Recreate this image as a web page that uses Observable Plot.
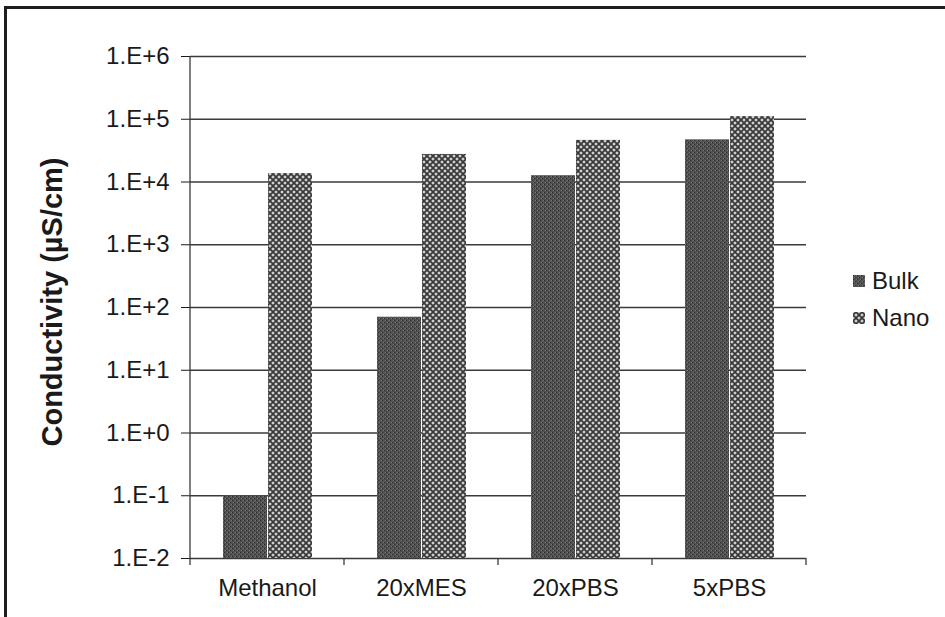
<!DOCTYPE html>
<html>
<head>
<meta charset="utf-8">
<script src="https://cdn.jsdelivr.net/npm/d3@7"></script>
<script src="https://cdn.jsdelivr.net/npm/@observablehq/plot@0.6"></script>
<style>
  body { margin: 0; background: #fff; font-family: "Liberation Sans", Arial, sans-serif; }
  #wrap { position: relative; width: 945px; height: 617px; overflow: hidden; background: #fff; }
  #frame { position: absolute; left: 4px; top: 6px; width: 1000px; height: 700px;
           border-left: 3px solid #1e1e1e; border-top: 3px solid #1e1e1e; }
  #chart { position: absolute; left: 0; top: 0; }
  #legend { position: absolute; left: 853px; top: 262px; font-size: 24px; color: #1a1a1a; line-height: 37px; }
  #legend .row { display: flex; align-items: center; }
  #legend svg { margin-right: 7px; }
</style>
</head>
<body>
<div id="wrap">
  <div id="frame"></div>
  <div id="chart"></div>
  <div id="legend"></div>
</div>
<script>
// ---- data ----
const categories = ["Methanol", "20xMES", "20xPBS", "5xPBS"];
const series = ["Bulk", "Nano"];
const bulkValues = [0.1, 70, 1.26e4, 4.7e4];
const nanoValues = [1.36e4, 2.75e4, 4.6e4, 1.1e5];
const yTicks = [1e-2, 1e-1, 1e0, 1e1, 1e2, 1e3, 1e4, 1e5, 1e6];
const yTickLabels = ["1.E-2", "1.E-1", "1.E+0", "1.E+1", "1.E+2", "1.E+3", "1.E+4", "1.E+5", "1.E+6"];
const yLabel = "Conductivity (µS/cm)";

const bulkRows = categories.map((c, i) => ({category: c, series: "Bulk", value: bulkValues[i]}));
const nanoRows = categories.map((c, i) => ({category: c, series: "Nano", value: nanoValues[i]}));
const yFloor = yTicks[0];
const fills = {Bulk: "url(#bulkPat)", Nano: "url(#nanoPat)"};

const chart = Plot.plot({
  width: 945,
  height: 617,
  marginTop: 56,
  marginBottom: 59,
  marginLeft: 190,
  marginRight: 139,
  style: {fontFamily: "'Liberation Sans', Arial, sans-serif", fontSize: "24px", color: "#1a1a1a", background: "transparent"},
  fx: {domain: categories, padding: 0, label: null, axis: "bottom", tickSize: 0, tickPadding: 20},
  x: {domain: series, paddingInner: 0.03, paddingOuter: 0.72, axis: null},
  y: {type: "log", domain: [yTicks[0], yTicks[yTicks.length - 1]], ticks: yTicks,
      tickFormat: d => yTickLabels[yTicks.indexOf(d)], label: null, tickSize: 9, tickPadding: 12},
  marks: [
    Plot.ruleY(yTicks, {stroke: "#3a3a3a", strokeWidth: 1.3}),
    Plot.barY(bulkRows, {fx: "category", x: "series", y1: yFloor, y2: "value", fill: fills.Bulk}),
    Plot.barY(nanoRows, {fx: "category", x: "series", y1: yFloor, y2: "value", fill: fills.Nano})
  ]
});

// patterns
const svg = d3.select(chart.tagName.toLowerCase() === "svg" ? chart : chart.querySelector("svg"));
const defs = svg.insert("defs", ":first-child");
const bp = defs.append("pattern").attr("id", "bulkPat").attr("patternUnits", "userSpaceOnUse")
  .attr("width", 4).attr("height", 4);
bp.append("rect").attr("width", 4).attr("height", 4).attr("fill", "#505050");
[[0,0,"#2c2c2c"],[2,2,"#2c2c2c"],[1,2,"#777777"],[3,0,"#777777"],[2,1,"#606060"]].forEach(([x,y,c]) =>
  bp.append("rect").attr("x", x).attr("y", y).attr("width", 1).attr("height", 1).attr("fill", c));
const np = defs.append("pattern").attr("id", "nanoPat").attr("patternUnits", "userSpaceOnUse")
  .attr("width", 6).attr("height", 6);
np.append("rect").attr("width", 6).attr("height", 6).attr("fill", "#383838");
const dia = "#d2d2d2";
np.append("polygon").attr("points", "3,1.2 4.8,3 3,4.8 1.2,3").attr("fill", dia);
np.append("polygon").attr("points", "0,-1.8 1.8,0 0,1.8 -1.8,0").attr("fill", dia);
np.append("polygon").attr("points", "6,-1.8 7.8,0 6,1.8 4.2,0").attr("fill", dia);
np.append("polygon").attr("points", "0,4.2 1.8,6 0,7.8 -1.8,6").attr("fill", dia);
np.append("polygon").attr("points", "6,4.2 7.8,6 6,7.8 4.2,6").attr("fill", dia);

// axis line and category boundary ticks from the library scales
const fxs = chart.scale("fx");
const ys = chart.scale("y");
const left = fxs.range[0], right = fxs.range[1];
const step = (right - left) / categories.length;
const y0 = ys.apply ? ys.apply(yTicks[0]) : ys.range[0];
const y1 = ys.apply ? ys.apply(yTicks[yTicks.length - 1]) : ys.range[1];
const g = svg.append("g").attr("stroke", "#3a3a3a").attr("stroke-width", 1.3);
g.append("line").attr("x1", left).attr("x2", left).attr("y1", y0).attr("y2", y1);
for (let i = 0; i <= categories.length; i++) {
  const x = left + i * step;
  g.append("line").attr("x1", x).attr("x2", x).attr("y1", y0).attr("y2", y0 + 7);
}
svg.append("text")
  .attr("transform", `translate(54,${(y0 + y1) / 2 - 5}) rotate(-90)`)
  .attr("text-anchor", "middle").attr("dominant-baseline", "middle")
  .attr("font-weight", "bold").attr("font-size", 29).attr("fill", "#1a1a1a")
  .text(yLabel);

document.getElementById("chart").appendChild(chart);

// legend
const legend = d3.select("#legend");
series.forEach(s => {
  const row = legend.append("div").attr("class", "row");
  const sw = row.append("svg").attr("width", 12).attr("height", 12);
  sw.append("rect").attr("width", 12).attr("height", 12).attr("fill", fills[s]);
  row.append("span").text(s);
});
</script>
</body>
</html>
